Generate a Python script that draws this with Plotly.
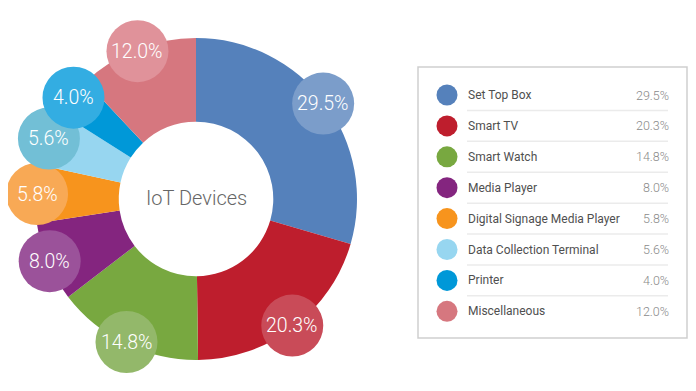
import plotly.graph_objects as go
import numpy as np

# ---- data ----
categories = ["Set Top Box", "Smart TV", "Smart Watch", "Media Player",
              "Digital Signage Media Player", "Data Collection Terminal",
              "Printer", "Miscellaneous"]
shares = [29.5, 20.3, 14.8, 8.0, 5.8, 5.6, 4.0, 12.0]
colors = ["#5581bb", "#be1e2d", "#78a840", "#84257f",
          "#f7941d", "#97d6f0", "#0098d8", "#d6777f"]
bubble_colors = ["#7b9dca", "#c94b58", "#93b86a", "#9b529a",
                 "#f8a955", "#72bfd6", "#33ade2", "#e0929a"]
center_title = "IoT Devices"

# ---- layout constants (screen pixels) ----
SW, SH = 696, 391          # browser window
OFF = 8                    # default body margin of the page
W, H = SW - 2 * OFF, SH - 2 * OFF
cx, cy, R = 196, 199, 161
hole = 0.48
label_r = 31
label_dist = 159


def px_x(x):
    return (x - OFF) / W


def px_y(y):
    return (OFF + H - y) / H


fig = go.Figure()

fig.add_trace(go.Pie(
    labels=categories, values=shares, sort=False, direction="clockwise",
    rotation=0, hole=hole,
    marker=dict(colors=colors, line=dict(width=0)),
    textinfo="none", hoverinfo="label+percent", showlegend=False,
    domain=dict(x=[px_x(cx - R), px_x(cx + R)],
                y=[px_y(cy + R), px_y(cy - R)]),
))

shapes = []
annotations = []

# label bubbles at slice mid-angles
vals = np.array(shares, dtype=float)
cum = np.cumsum(vals) - vals / 2
mid_deg = cum / vals.sum() * 360.0
for v, bc, a in zip(shares, bubble_colors, mid_deg):
    t = np.deg2rad(a)
    px = cx + label_dist * np.sin(t)
    py = cy - label_dist * np.cos(t)
    shapes.append(dict(type="circle", xref="x", yref="y",
                       x0=px - label_r, x1=px + label_r,
                       y0=py - label_r, y1=py + label_r,
                       fillcolor=bc, line=dict(width=0),
                       layer="above"))
    annotations.append(dict(x=px, y=py, xref="x", yref="y",
                            text=f"{v:.1f}%", showarrow=False,
                            font=dict(family="Roboto", size=19.5, color="white",
                                      weight=300)))

annotations.append(dict(x=cx, y=cy - 1, xref="x", yref="y", text=center_title,
                        showarrow=False,
                        font=dict(family="Roboto", size=20, color="#666666",
                                  weight=300)))

# ---- legend panel ----
box = (418, 67, 687, 338)
shapes.append(dict(type="rect", xref="x", yref="y", x0=box[0], y0=box[1],
                   x1=box[2], y1=box[3], line=dict(color="#cfcfcf", width=1.5),
                   fillcolor="rgba(0,0,0,0)", layer="above"))
row0, step = 95, 30.9
dot_x, name_x, pct_x = 447, 466, 671
rows_y = [row0 + i * step for i in range(len(categories))]

fig.add_trace(go.Scatter(
    x=[dot_x] * len(categories), y=rows_y, mode="markers",
    marker=dict(size=21, color=colors, line=dict(width=0)),
    hoverinfo="skip", showlegend=False,
))

for i, (name, v, y) in enumerate(zip(categories, shares, rows_y)):
    annotations.append(dict(x=name_x, y=y, xref="x", yref="y", text=name,
                            xanchor="left", showarrow=False,
                            font=dict(family="Roboto", size=12, color="#4f4f4f",
                                      weight=400)))
    annotations.append(dict(x=pct_x, y=y, xref="x", yref="y", text=f"{v:.1f}%",
                            xanchor="right", showarrow=False,
                            font=dict(family="Roboto", size=12.5, color="#8a8a8a",
                                      weight=300)))
    if i < len(categories) - 1:
        ly = y + step / 2
        shapes.append(dict(type="line", xref="x", yref="y", x0=467, x1=668,
                           y0=ly, y1=ly, line=dict(color="#ebebeb", width=1.5),
                           layer="above"))

fig.update_layout(
    width=W, height=H, margin=dict(l=0, r=0, t=0, b=0),
    paper_bgcolor="white", plot_bgcolor="white",
    xaxis=dict(range=[OFF, OFF + W], visible=False, fixedrange=True),
    yaxis=dict(range=[OFF + H, OFF], visible=False, fixedrange=True),
    shapes=shapes, annotations=annotations, showlegend=False,
)

fig.write_html("out.html")
